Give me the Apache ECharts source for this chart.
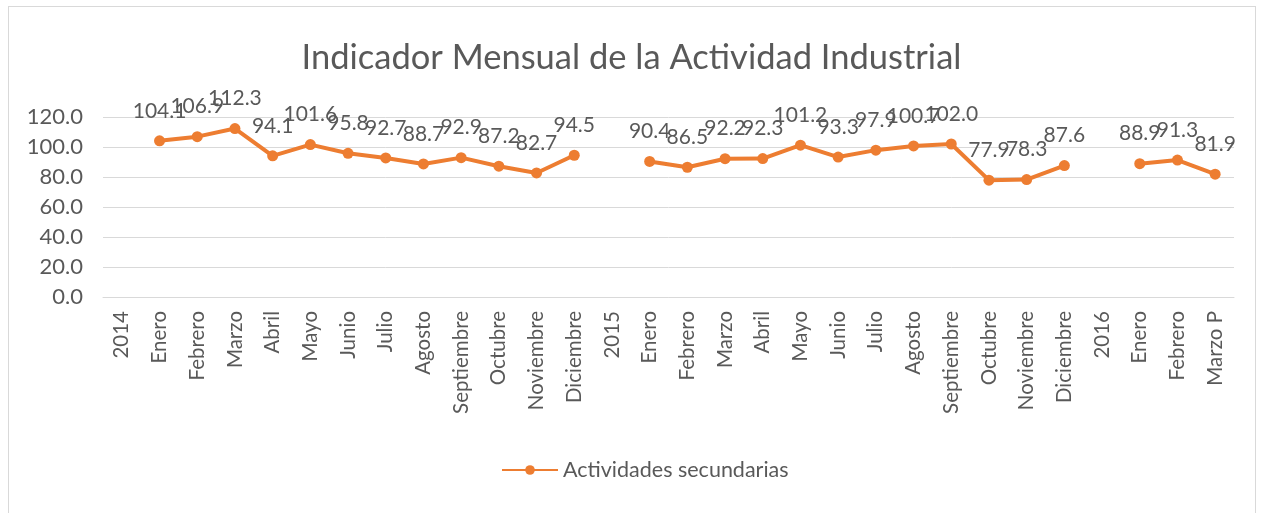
<!DOCTYPE html>
<html>
<head>
<meta charset="utf-8">
<script src="https://cdn.jsdelivr.net/npm/echarts@6/dist/echarts.min.js"></script>
<style>
  html, body { margin: 0; padding: 0; background: #fff; }
  #frame { position: absolute; left: 8px; top: 6px; width: 1246px; height: 520px; border: 1px solid #d9d9d9; }
  #main { position: absolute; left: 0; top: 0; width: 1263px; height: 513px; }
</style>
</head>
<body>
<div id="frame"></div>
<div id="main"></div>
<script>
// categorias (los años separan los bloques, sin valor)
var categorias = ['2014', 'Enero', 'Febrero', 'Marzo', 'Abril', 'Mayo', 'Junio', 'Julio', 'Agosto',
  'Septiembre', 'Octubre', 'Noviembre', 'Diciembre',
  '2015', 'Enero', 'Febrero', 'Marzo', 'Abril', 'Mayo', 'Junio', 'Julio', 'Agosto',
  'Septiembre', 'Octubre', 'Noviembre', 'Diciembre',
  '2016', 'Enero', 'Febrero', 'Marzo P'];
var valores = [null, 104.1, 106.9, 112.3, 94.1, 101.6, 95.8, 92.7, 88.7, 92.9, 87.2, 82.7, 94.5,
  null, 90.4, 86.5, 92.2, 92.3, 101.2, 93.3, 97.9, 100.7, 102.0, 77.9, 78.3, 87.6,
  null, 88.9, 91.3, 81.9];
var ticksY = [0, 20, 40, 60, 80, 100, 120];

var chart = echarts.init(document.getElementById('main'));
var option = {
  animation: false,
  textStyle: { fontFamily: 'Lato' },
  title: {
    text: 'Indicador Mensual de la Actividad Industrial',
    left: 'center',
    top: 35,
    textStyle: { fontSize: 34.5, fontWeight: 'normal', color: '#595959', fontFamily: 'Lato' }
  },
  legend: {
    bottom: 27,
    left: 496,
    itemWidth: 56,
    itemHeight: 12,
    itemGap: 4,
    textStyle: { fontSize: 21.5, color: '#595959' },
    data: ['Actividades secundarias']
  },
  grid: { left: 103, right: 29, top: 117, bottom: 216, containLabel: false },
  xAxis: {
    type: 'category',
    data: categorias,
    boundaryGap: true,
    axisLine: { lineStyle: { color: '#d9d9d9' } },
    axisTick: { show: false },
    axisLabel: { rotate: 90, interval: 0, fontSize: 20.5, color: '#595959', margin: 14 }
  },
  yAxis: {
    type: 'value',
    min: ticksY[0],
    max: ticksY[ticksY.length - 1],
    interval: 20,
    axisLine: { show: false },
    axisTick: { show: false },
    splitLine: { lineStyle: { color: '#d9d9d9' } },
    axisLabel: {
      fontSize: 22, color: '#595959', margin: 20,
      formatter: function (v) { return v.toFixed(1); }
    }
  },
  series: [{
    name: 'Actividades secundarias',
    type: 'line',
    data: valores,
    connectNulls: false,
    symbol: 'circle',
    symbolSize: 11,
    itemStyle: { color: '#ed7d31' },
    lineStyle: { width: 4, color: '#ed7d31' },
    label: {
      show: true, position: 'top', distance: 14,
      fontSize: 21, color: '#595959',
      formatter: function (p) { return p.value == null ? '' : p.value.toFixed(1); }
    }
  }]
};
chart.setOption(option);
</script>
</body>
</html>
